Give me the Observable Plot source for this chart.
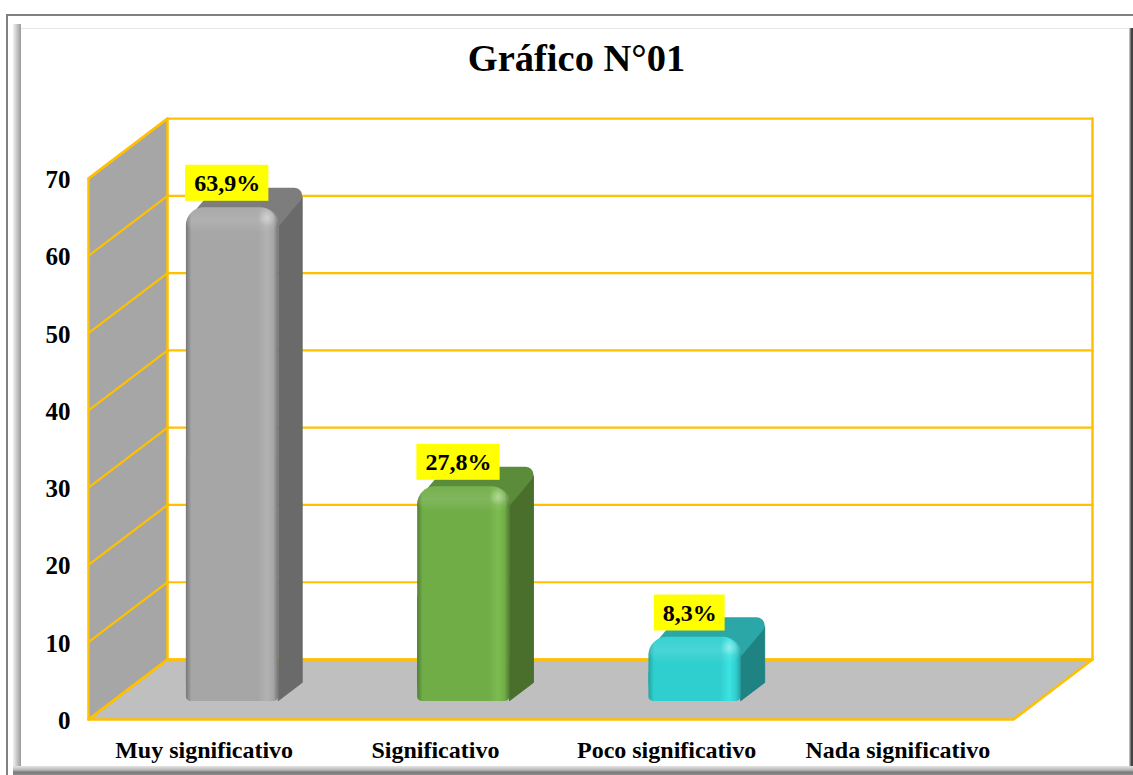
<!DOCTYPE html>
<html><head><meta charset="utf-8">
<script src="https://cdn.jsdelivr.net/npm/d3@7"></script>
<script src="https://cdn.jsdelivr.net/npm/@observablehq/plot@0.6"></script>
<style>
html,body{margin:0;padding:0;background:#fff;width:1133px;height:775px;overflow:hidden;font-family:"Liberation Serif",serif}
.abs{position:absolute}
#chart{position:absolute;left:0;top:0}
#title{position:absolute;left:0;width:1153px;top:36px;text-align:center;font:bold 38.5px "Liberation Serif",serif;color:#000;margin:0}
</style></head><body>
<div class="abs" style="left:6px;top:14px;width:1127px;height:2px;background:#808080"></div>
<div class="abs" style="left:6px;top:14px;width:2px;height:761px;background:#808080"></div>
<div class="abs" style="left:21px;top:28px;width:1108px;height:1px;background:#e6e6e6"></div>
<div class="abs" style="left:13px;top:24px;width:8px;height:745px;background:linear-gradient(90deg,#f2f2f2,#9a9a9a)"></div>
<div class="abs" style="left:1129px;top:28px;width:4px;height:747px;background:linear-gradient(90deg,#d9d9d9,#444 60%)"></div>
<div class="abs" style="left:13px;top:766px;width:1120px;height:9px;background:linear-gradient(180deg,#e4e4e4,#bdbdbd 40%,#7a7a7a 70%,#8c8c8c)"></div>
<h2 id="title">Gráfico N°01</h2>
<div id="chart"></div>
<script>
const categories = ["Muy significativo", "Significativo", "Poco significativo", "Nada significativo"];
const values = [63.9, 27.8, 8.3, 0];
const valueLabels = ["63,9%", "27,8%", "8,3%", ""];
const faceColors = ["#a6a6a6", "#70ad47", "#30cfcf"];
const topColors = ["#7d7d7d", "#5b8c3a", "#2ba7a7"];
const sideColors = ["#6a6a6a", "#4a6f2d", "#1f8383"];
const lightColors = ["#b2b2b2", "#7dbc50", "#3de2e2"];
const darkColors = ["#777777", "#517f33", "#22a5a5"];
const yTicks = [0, 10, 20, 30, 40, 50, 60, 70];

const gold = "#ffc000";
const depthX = 0.3416, depthY = 7.76;          // oblique depth vector, in scale units
const nCat = categories.length, yMax = 70;
const proj = (x, v, d) => ({x: x + d * depthX, y: v + d * depthY});
const poly = (id, pts) => pts.map(p => ({id, ...p}));

const marks = [];
marks.push(() => {
  const defs = d3.create("svg:defs");
  faceColors.forEach((c, i) => {
    const g = defs.append("linearGradient").attr("id", "face" + i);
    [[0, darkColors[i]], [.06, c], [.78, c], [.88, lightColors[i]], [.95, c], [1, darkColors[i]]].forEach(([o, col]) =>
      g.append("stop").attr("offset", o).attr("stop-color", col));
  });
  const b = defs.append("linearGradient").attr("id", "bevel").attr("x2", 0).attr("y2", 1);
  b.append("stop").attr("offset", 0).attr("stop-color", "#fff").attr("stop-opacity", .04);
  b.append("stop").attr("offset", .5).attr("stop-color", "#fff").attr("stop-opacity", .12);
  b.append("stop").attr("offset", 1).attr("stop-color", "#fff").attr("stop-opacity", 0);
  const r = defs.append("radialGradient").attr("id", "spot");
  r.append("stop").attr("offset", 0).attr("stop-color", "#fff").attr("stop-opacity", .35);
  r.append("stop").attr("offset", 1).attr("stop-color", "#fff").attr("stop-opacity", 0);
  return defs.node();
});

// wall + floor
const wall = [proj(0, 0, 0), proj(0, 0, 1), proj(0, yMax, 1), proj(0, yMax, 0)];
const floor = [proj(0, 0, 0), proj(nCat, 0, 0), proj(nCat, 0, 1), proj(0, 0, 1)];
marks.push(Plot.line(wall, {x: "x", y: "y", curve: "linear-closed", fill: "#a6a6a6", stroke: gold, strokeWidth: 2.5}));
marks.push(Plot.line(floor, {x: "x", y: "y", curve: "linear-closed", fill: "#bfbfbf", stroke: gold, strokeWidth: 2.5}));
const rungs = yTicks.flatMap(t => poly("g" + t, [proj(0, t, 0), proj(0, t, 1), proj(nCat, t, 1)]));
marks.push(Plot.line(rungs, {x: "x", y: "y", z: "id", stroke: gold, strokeWidth: 2.2}));
marks.push(Plot.line([proj(nCat, 0, 1), proj(nCat, yMax, 1)], {x: "x", y: "y", stroke: gold, strokeWidth: 2.5}));

// bars
const d0 = 0.3, d1 = 0.6, shift = 0.02, hw = 0.199;
const ix = 8 / 231.25, iy = 8 / 7.73;          // corner-rounding inset
values.forEach((v, i) => {
  if (!(v > 0)) return;
  const xa = i + .5 + shift - hw, xb = i + .5 + shift + hw;
  const side = poly("s", [proj(xb, v - 0.9 * iy, d0), proj(xb, v - 0.9 * iy, d1), proj(xb, iy / 8, d1), proj(xb, iy / 8, d0)]);
  const top = poly("t", [proj(xa + ix, v - 2 * iy, d0), proj(xb - ix, v - 2 * iy, d0), proj(xb - ix, v - 0.75 * iy, d1), proj(xa + ix, v - 0.75 * iy, d1)]);
  marks.push(Plot.line(side, {x: "x", y: "y", curve: "linear-closed", fill: sideColors[i], stroke: sideColors[i], strokeWidth: 1, strokeLinejoin: "round"}));
  marks.push(Plot.line(top, {x: "x", y: "y", curve: "linear-closed", fill: topColors[i], stroke: topColors[i], strokeWidth: 16, strokeLinejoin: "round"}));
  const bot = proj(0, 0, d0).y, top0 = v + bot;
  const fx1 = xa + d0 * depthX, fx2 = xb + d0 * depthX;
  const rect = {x1: "x1", x2: "x2", y1: "y1", y2: "y2"};
  marks.push(Plot.rect([{x1: fx1, x2: fx2, y1: bot, y2: top0}], {...rect, fill: `url(#face${i})`, rx: 18, ry: 18}));
  marks.push(Plot.rect([{x1: fx1, x2: fx2, y1: bot, y2: bot + v / 2}], {...rect, fill: `url(#face${i})`, rx: 5, ry: 4}));
  marks.push(Plot.rect([{x1: fx1, x2: fx2, y1: top0 - 3.4, y2: top0}], {...rect, fill: "url(#bevel)", rx: 18, ry: 14}));
  marks.push(Plot.dot([{x: fx2 - .05, y: top0 - 1.3}], {x: "x", y: "y", r: 9, fill: "url(#spot)"}));
  // label box
  const lx = i + .6, ly = top0 + 3.15, half = valueLabels[i].length === 5 ? .18 : .153;
  marks.push(Plot.rect([{x1: lx - half, x2: lx + half, y1: ly - 2.33, y2: ly + 2.33}], {...rect, fill: "#ffff00"}));
  marks.push(Plot.text([valueLabels[i]], {x: lx, y: ly, text: d => d, fontSize: 24, fontWeight: "bold", fill: "#000"}));
});

// axes
marks.push(Plot.axisY(yTicks, {anchor: "left", tickSize: 0, tickPadding: 18, dy: 1.5, fontSize: 25, fontWeight: "bold", fill: "#000", label: null}));
marks.push(Plot.axisX(categories.map((c, i) => i + .5), {anchor: "bottom", tickSize: 0, tickPadding: 21, fontSize: 24, fontWeight: "bold", fill: "#000", label: null, tickFormat: d => categories[Math.floor(d)]}));

const chart = Plot.plot({
  width: 1133, height: 775,
  marginLeft: 88, marginRight: 120, marginTop: 178, marginBottom: 56,
  x: {type: "linear", domain: [0, nCat]},
  y: {type: "linear", domain: [0, yMax]},
  style: {background: "transparent", fontFamily: "'Liberation Serif', serif", overflow: "visible"},
  marks
});
document.getElementById("chart").appendChild(chart);
</script>
</body></html>
